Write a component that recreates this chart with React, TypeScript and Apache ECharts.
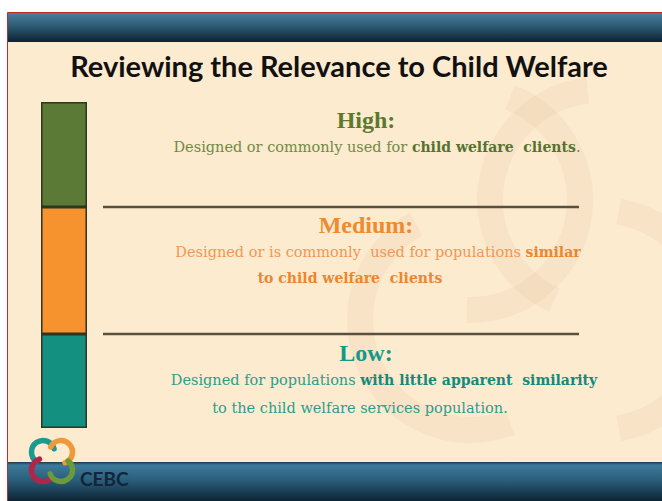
import React, { useEffect, useRef } from "react";
import * as echarts from "echarts";

const levels = ["High", "Medium", "Low"];
const bandHeights = [105, 127, 94];
const bandColors = ["#5b7a35", "#f7932f", "#13907f"];
const headings = ["High:", "Medium:", "Low:"];
const descLines: string[][] = [
  ["{n|Designed or commonly used for }{b|child welfare  clients}{n|.}"],
  ["{n|Designed or is commonly  used for populations }{b|similar}", "{b|to child welfare  clients}"],
  ["{n|Designed for populations }{b|with little apparent  similarity}", "{n|to the child welfare services population.}"],
];
const title = "Reviewing the Relevance to Child Welfare";
const logoText = "CEBC";

export default function App() {
  const ref = useRef<HTMLDivElement>(null);
  useEffect(() => {
    const chart = echarts.init(ref.current!, undefined, { renderer: "svg" });
    const total = bandHeights.reduce((a, b) => a + b, 0);
    const textColors = [
      { h: "#5b7a2e", n: "#6f8a45", b: "#557230" },
      { h: "#ef8a2e", n: "#f09852", b: "#ec8630" },
      { h: "#17978a", n: "#2a9e8e", b: "#128a7c" },
    ];
    const headY = [120, 225, 353];
    const lineY = [[147], [252, 278], [380, 408]];
    const lineX = [[377], [378, 350], [384, 360]];
    const serif = "'Liberation Serif', 'Times New Roman', serif";
    const bodySerif = "'DejaVu Serif', serif";

    const graphics: any[] = [];
    graphics.push({ type: "rect", shape: { x: 0, y: 0, width: 662, height: 501 }, style: { fill: "#ffffff" }, z: -20 });
    graphics.push({ type: "rect", shape: { x: 7.5, y: 12.5, width: 656, height: 490 }, style: { fill: "#fdebcf", stroke: "#c42a2a", lineWidth: 1 }, z: -19 });
    const wm = [
      { cx: 470, cy: 200, s: -1.2, e: 1.6 },
      { cx: 600, cy: 200, s: 2.0, e: 4.6 },
      { cx: 470, cy: 320, s: 1.2, e: 4.2 },
      { cx: 600, cy: 320, s: -1.4, e: 1.4 },
    ];
    wm.forEach((w) => {
      graphics.push({
        type: "arc",
        shape: { cx: w.cx, cy: w.cy, r: 110, startAngle: w.s, endAngle: w.e },
        style: { stroke: "rgba(226,196,158,0.18)", lineWidth: 26, fill: "none" },
        z: -18,
      });
    });
    graphics.push({
      type: "rect",
      shape: { x: 8, y: 13, width: 654, height: 29 },
      style: {
        fill: new echarts.graphic.LinearGradient(0, 0, 0, 1, [
          { offset: 0, color: "#4a7f9c" },
          { offset: 0.45, color: "#2d5a74" },
          { offset: 1, color: "#0c2232" },
        ]),
      },
      z: -10,
    });
    graphics.push({
      type: "rect",
      shape: { x: 8, y: 462, width: 654, height: 39 },
      style: {
        fill: new echarts.graphic.LinearGradient(0, 0, 0, 1, [
          { offset: 0, color: "#1d3a4c" },
          { offset: 0.08, color: "#3d7a9a" },
          { offset: 0.45, color: "#2b5f7c" },
          { offset: 1, color: "#0d2435" },
        ]),
      },
      z: -10,
    });
    graphics.push({
      type: "text",
      style: { text: title, x: 339, y: 65, align: "center", verticalAlign: "middle", font: "bold 29px Lato", fill: "#111111" },
    });
    [207, 334].forEach((y) => {
      graphics.push({ type: "line", shape: { x1: 103, y1: y, x2: 579, y2: y }, style: { stroke: "#57503f", lineWidth: 2.5 } });
    });
    levels.forEach((_, i) => {
      const c = textColors[i];
      graphics.push({
        type: "text",
        style: { text: headings[i], x: 366, y: headY[i], align: "center", verticalAlign: "middle", font: `bold 24px ${serif}`, fill: c.h },
      });
      descLines[i].forEach((t, j) => {
        graphics.push({
          type: "text",
          style: {
            text: t,
            x: lineX[i][j],
            y: lineY[i][j],
            align: "center",
            verticalAlign: "middle",
            rich: {
              n: { font: `14.5px ${bodySerif}`, fill: c.n },
              b: { font: `bold 14px ${bodySerif}`, fill: c.b },
            },
          },
        });
      });
    });
    const lc = { x: 52, y: 461 };
    const logoArcs = [
      { dx: -9, dy: -9, color: "#1a9a90", s: 2.2, e: 6.0 },
      { dx: 9, dy: -9, color: "#ef9a3a", s: 3.6, e: 7.5 },
      { dx: -9, dy: 9, color: "#b0264a", s: 0.7, e: 4.4 },
      { dx: 9, dy: 9, color: "#6a9a3a", s: -0.9, e: 2.8 },
    ];
    logoArcs.forEach((a) => {
      graphics.push({
        type: "arc",
        shape: { cx: lc.x + a.dx, cy: lc.y + a.dy, r: 11.5, startAngle: a.s, endAngle: a.e },
        style: { stroke: a.color, lineWidth: 5.5, fill: "none", lineCap: "round" },
      });
    });
    graphics.push({
      type: "text",
      style: { text: logoText, x: 80, y: 478, verticalAlign: "middle", font: "bold 19px Lato", fill: "#14243a" },
    });

    chart.setOption({
      animation: false,
      backgroundColor: "transparent",
      grid: { left: 41, top: 102, width: 46, height: 326 },
      xAxis: { type: "category", data: ["Relevance"], show: false },
      yAxis: { type: "value", inverse: true, min: 0, max: total, show: false },
      series: levels.map((name, i) => ({
        name,
        type: "bar",
        stack: "relevance",
        barWidth: "100%",
        data: [bandHeights[i]],
        itemStyle: { color: bandColors[i], borderColor: "#2e3522", borderWidth: 1.5 },
        z: 2,
      })),
      graphic: { elements: graphics },
    });
    return () => chart.dispose();
  }, []);
  return <div ref={ref} style={{ position: "absolute", left: 0, top: 0, width: 662, height: 501 }} />;
}
